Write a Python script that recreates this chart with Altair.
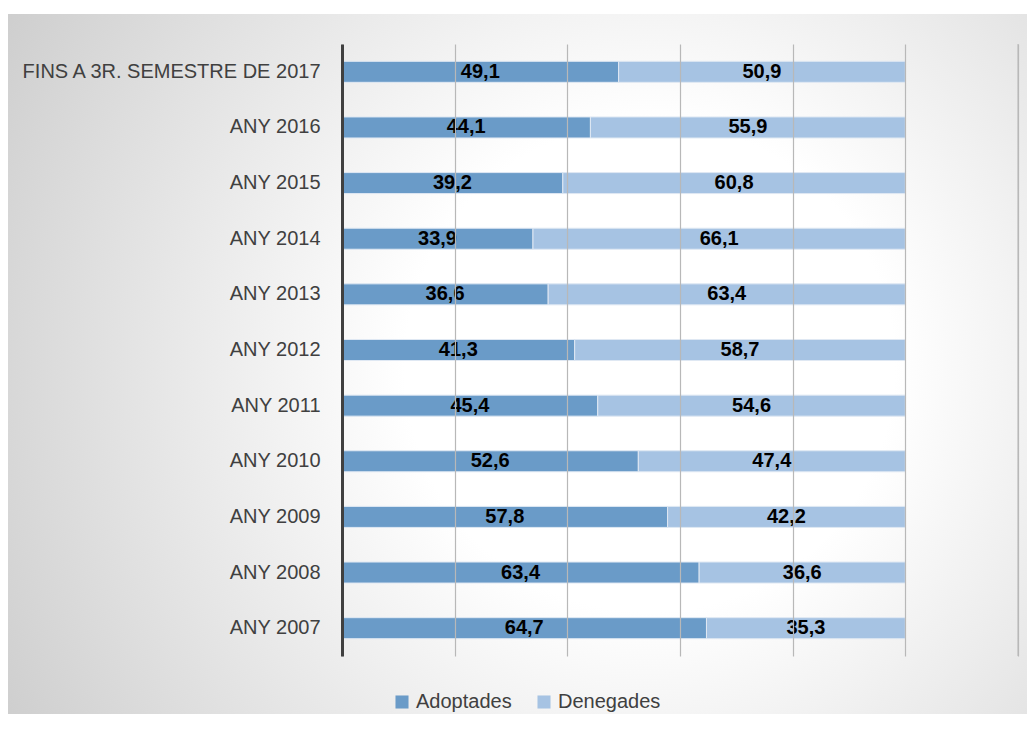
import altair as alt
import pandas as pd

categories = ["FINS A 3R. SEMESTRE DE 2017", "ANY 2016", "ANY 2015", "ANY 2014",
              "ANY 2013", "ANY 2012", "ANY 2011", "ANY 2010", "ANY 2009",
              "ANY 2008", "ANY 2007"]
adoptades = [49.1, 44.1, 39.2, 33.9, 36.6, 41.3, 45.4, 52.6, 57.8, 63.4, 64.7]
denegades = [50.9, 55.9, 60.8, 66.1, 63.4, 58.7, 54.6, 47.4, 42.2, 36.6, 35.3]
series = ["Adoptades", "Denegades"]
colors = ["#6a9bc8", "#a6c3e3"]
grid_values = [0, 20, 40, 60, 80, 100, 120]

rows = []
for c, a, d in zip(categories, adoptades, denegades):
    rows.append({"cat": c, "serie": series[0], "value": a, "ord": 0})
    rows.append({"cat": c, "serie": series[1], "value": d, "ord": 1})
df = pd.DataFrame(rows)

FONT = "Liberation Sans"

bg = alt.Chart(pd.DataFrame({"a": [0]})).mark_rect(
    fill={
        "gradient": "radial",
        "x1": 0.63, "y1": 0.5, "r1": 0,
        "x2": 0.63, "y2": 0.5, "r2": 0.8,
        "stops": [
            {"offset": 0, "color": "#ffffff"},
            {"offset": 0.3, "color": "#ffffff"},
            {"offset": 1, "color": "#c6c6c6"},
        ],
    },
).encode(
    x=alt.value(-335), x2=alt.value(685), y=alt.value(-30), y2=alt.value(676)
)

y_enc = alt.Y("cat:N", sort=categories, title=None,
              scale=alt.Scale(paddingInner=0.62, paddingOuter=0.31),
              axis=alt.Axis(zindex=1, ticks=False, labelPadding=22, domainColor="#404040",
                            domainWidth=3, labelFontSize=20, labelColor="#404040",
                            labelFont=FONT, grid=False, labelLimit=0))

xscale = alt.Scale(domain=[0, 120], nice=False)

bars = alt.Chart(df).mark_bar(size=21, stroke="#dfe8f3", strokeWidth=1).encode(
    x=alt.X("value:Q", stack="zero", title=None, scale=xscale,
            axis=alt.Axis(zindex=1, values=grid_values, labels=False,
                          ticks=False, domain=False, grid=True, gridColor="#b8b8b8",
                          gridWidth=1.2)),
    y=y_enc,
    color=alt.Color("serie:N", scale=alt.Scale(domain=series, range=colors),
                    legend=alt.Legend(title=None, orient="none", legendX=50, legendY=648,
                                      direction="horizontal", symbolType="square",
                                      symbolSize=170, symbolStrokeWidth=0,
                                      labelFontSize=20, labelColor="#404040",
                                      labelFont=FONT, columnPadding=22, symbolOpacity=1)),
    order=alt.Order("ord:Q"),
)

edge = alt.Chart(pd.DataFrame({"g": [grid_values[-1]]})).mark_rule(
    color="#c0c0c0", strokeWidth=1.2
).encode(x=alt.X("g:Q", scale=xscale), y=alt.value(0), y2=alt.value(612))

labels = alt.Chart(df).transform_stack(
    stack="value", groupby=["cat"], as_=["v0", "v1"], sort=[alt.SortField("ord")]
).transform_calculate(
    mid="(datum.v0 + datum.v1) / 2",
    lab="replace(format(datum.value, '.1f'), '.', ',')",
).mark_text(fontSize=20, fontWeight="bold", color="#000000", font=FONT).encode(
    x=alt.X("mid:Q"),
    y=alt.Y("cat:N", sort=categories),
    text="lab:N",
)

chart = alt.layer(bg, bars, edge, labels).properties(
    width=676, height=612,
    autosize=alt.AutoSizeParams(type="none"),
    padding={"left": 334, "top": 36, "right": 9, "bottom": 58},
).configure_view(stroke=None).configure(background="white")

chart.save("out.html", embed_options={"renderer": "svg", "actions": False})
